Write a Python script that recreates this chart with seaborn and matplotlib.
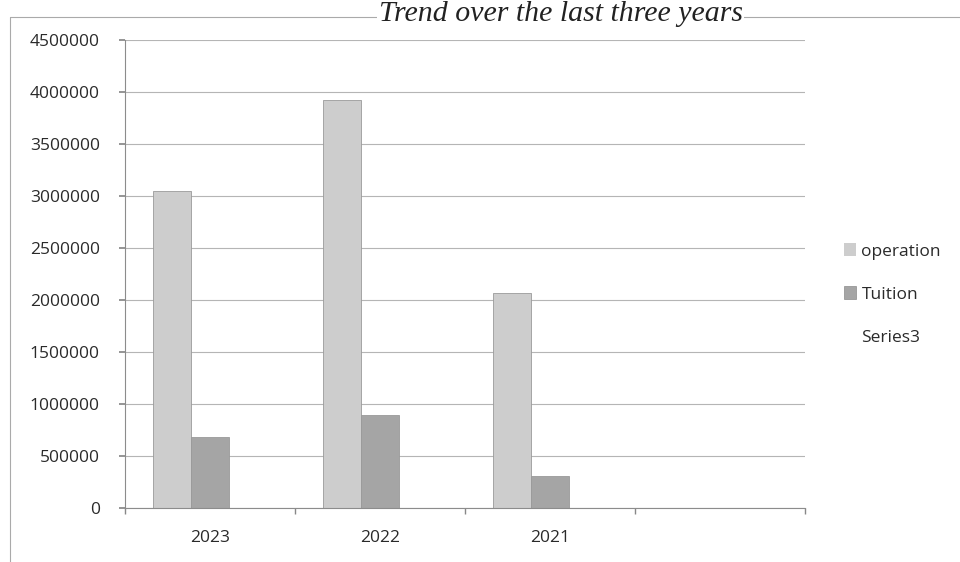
import matplotlib
matplotlib.use("Agg")
import matplotlib.pyplot as plt
import matplotlib.patches as mpatches
from matplotlib.lines import Line2D
import numpy as np
import pandas as pd
import seaborn as sns

categories = ["2023", "2022", "2021", ""]
series_names = ["operation", "Tuition", "Series3"]
operation = [3050000, 3920000, 2070000, np.nan]
tuition = [680000, 890000, 310000, np.nan]
series3 = [np.nan, np.nan, np.nan, np.nan]
yticks = [0, 500000, 1000000, 1500000, 2000000, 2500000, 3000000, 3500000, 4000000, 4500000]
colors = {"operation": "#cdcdcd", "Tuition": "#a5a5a5", "Series3": "#808080"}

rows = []
for name, vals in zip(series_names, [operation, tuition, series3]):
    for c, v in zip(categories, vals):
        rows.append({"cat": c, "series": name, "value": v})
df = pd.DataFrame(rows)

sns.set_theme(style="white")
plt.rcParams['font.family'] = ['Open Sans', 'DejaVu Sans']

fig = plt.figure(figsize=(9.6, 5.62), dpi=100)
ax = fig.add_axes([0.130, 0.096, 0.7085, 0.833])

sns.barplot(data=df, x="cat", y="value", hue="series", order=categories,
            hue_order=series_names, palette=colors, errorbar=None,
            width=0.667, ax=ax, legend=False, saturation=1,
            edgecolor="#9a9a9a", linewidth=0.6)

ax.set_xlim(-0.5, len(categories) - 0.5)
ax.set_ylim(0, 4500000)
ax.set_yticks(yticks)
ax.set_yticklabels([str(v) for v in yticks], fontsize=12.5, color="#2a2a2a")
ax.yaxis.grid(True, color="#b5b5b5", linewidth=0.8)
ax.set_axisbelow(True)
ax.set_xlabel("")
ax.set_ylabel("")

ax.set_xticks(range(len(categories)))
ax.set_xticklabels(categories, fontsize=12.5, color="#2a2a2a")
ax.set_xticks(np.arange(-0.5, len(categories)), minor=True)
ax.tick_params(axis="x", which="major", length=0, pad=16)
ax.tick_params(axis="x", which="minor", length=4, color="#888888", direction="out", bottom=True)
ax.tick_params(axis="y", which="major", length=4, color="#888888", direction="out", pad=14, left=True)

for s in ["top", "right"]:
    ax.spines[s].set_visible(False)
for s in ["left", "bottom"]:
    ax.spines[s].set_color("#8c8c8c")
    ax.spines[s].set_linewidth(0.8)

handles = [mpatches.Patch(facecolor=colors["operation"], edgecolor="none"),
           mpatches.Patch(facecolor=colors["Tuition"], edgecolor="#8c8c8c", linewidth=0.5),
           mpatches.Patch(facecolor="none", edgecolor="none")]
fig.legend(handles, series_names, loc="center left", bbox_to_anchor=(0.863, 0.476),
           frameon=False, fontsize=12.5, handlelength=0.7, handleheight=0.7,
           handletextpad=0.3, labelspacing=1.55, labelcolor="#2a2a2a")

fig.add_artist(Line2D([10/960, 1], [1 - 17/562, 1 - 17/562], transform=fig.transFigure,
                      color="#aaaaaa", linewidth=0.8, zorder=1))
fig.add_artist(Line2D([10/960, 10/960], [0, 1 - 17/562], transform=fig.transFigure,
                      color="#aaaaaa", linewidth=0.8, zorder=1))

fig.text(0.584, 0.962, "Trend over the last three years", ha="center", va="baseline",
         fontsize=21.5, style="italic", family=["Liberation Serif", "DejaVu Serif"],
         color="#222222", zorder=5,
         bbox=dict(facecolor="white", edgecolor="none", pad=1))

fig.savefig("out.png", dpi=100)
